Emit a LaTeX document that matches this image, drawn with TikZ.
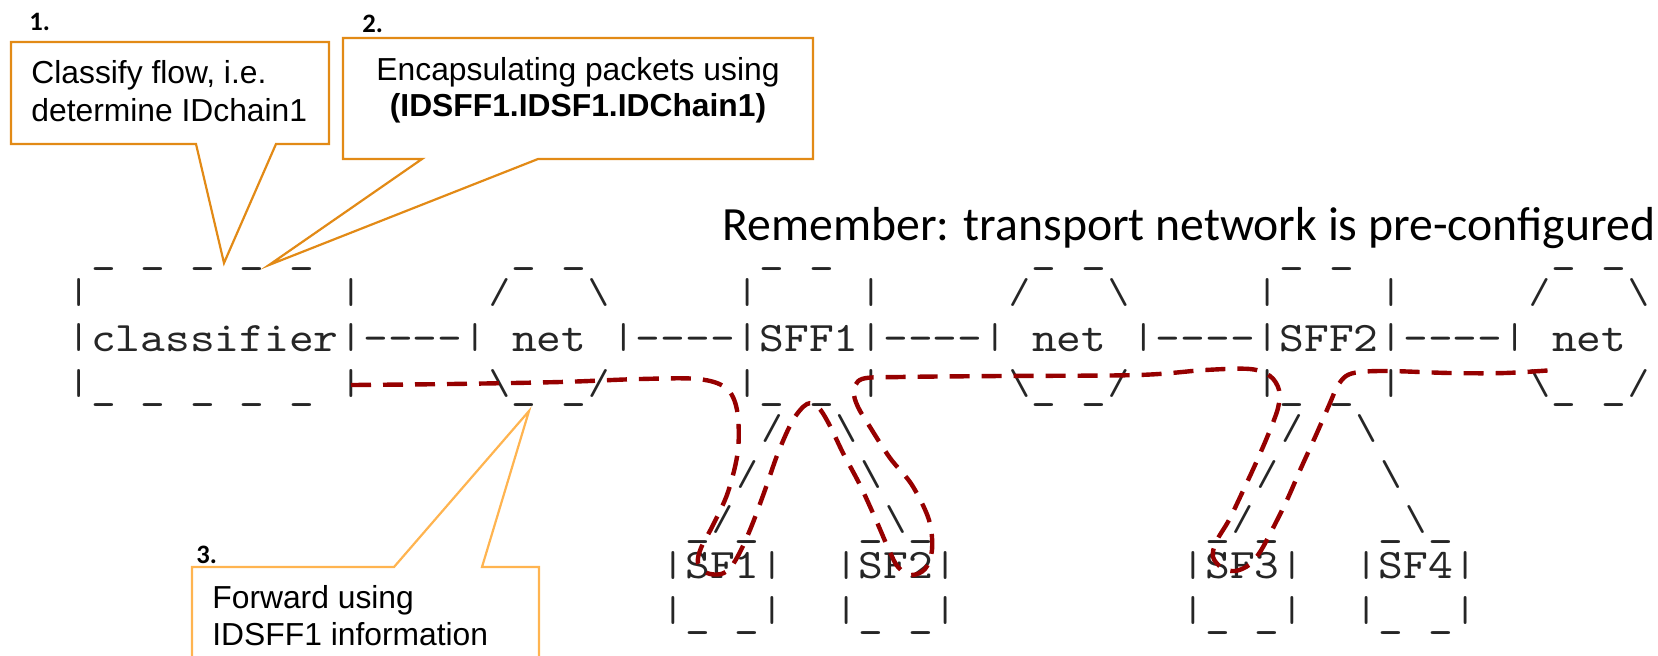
\documentclass[tikz,border=0pt]{standalone}
\usepackage{fontspec}
\setmainfont{Liberation Sans}
\newfontfamily\calibrifont{Carlito}
\setmonofont{lmmono10-regular.otf}[FakeStretch=1.123]
\usepackage{tikz}

\definecolor{boxorange}{RGB}{226,138,22}
\definecolor{lightorange}{RGB}{255,180,80}
\definecolor{pathred}{RGB}{150,0,0}

% one character cell of the ascii drawing
\newlength\cellw \setlength\cellw{12.38pt}
\newcommand\blank[1]{\kern#1\cellw}
\newcommand\asciiglyph[1]{\makebox[\cellw]{\raisebox{1.2pt}{\fontsize{18pt}{18pt}\selectfont#1}}}
\newcommand\abar{\asciiglyph{|}}
\newcommand\aslash{\asciiglyph{/}}
\newcommand\abslash{\asciiglyph{\textbackslash}}
\newcommand\aus{\makebox[\cellw]{\raisebox{-1.5pt}{\_}}}
\newcommand\alink{-\kern0pt-\kern0pt-\kern0pt-}

\tikzset{
  asc/.style={font=\ttfamily\fontsize{21pt}{21pt}\selectfont, text=black!85, inner sep=0pt, anchor=base west},
  note/.style={font=\fontsize{15.9pt}{19pt}\selectfont, inner sep=0pt, anchor=base west},
  num/.style={font=\calibrifont\bfseries\fontsize{13.3pt}{13.3pt}\selectfont, inner sep=0pt, anchor=base west},
  calloutline/.style={draw=boxorange, line width=1.1pt},
  flow/.style={draw=pathred, line width=2.2pt, dash pattern=on 10pt off 6pt},
}

\begin{document}
\begin{tikzpicture}[x=0.5pt,y=-0.5pt]
\useasboundingbox (0,0) rectangle (1658,655);
\clip (0,0) rectangle (1658,655);

%callout 1
\node[num] (num1) at (29,30) {1.};
\draw[calloutline] (11,42) -- (329,42) -- (329,144) -- (276,144) -- (224,263) -- (196,144) -- (11,144) -- cycle;
\node[note] (cls1) at (31,83) {Classify flow, i.e.};
\node[note] (cls2) at (31,121) {determine IDchain1};

%callout 2
\node[num] (num2) at (362,32) {2.};
\draw[calloutline] (343,38) -- (813,38) -- (813,159) -- (538,159) -- (269,265) -- (422,159) -- (343,159) -- cycle;
\node[note, anchor=base] (enc1) at (578,80) {Encapsulating packets using};
\node[note, anchor=base] (enc2) at (578,116.5) {\bfseries (IDSFF1.IDSF1.IDChain1)};

%callout 3
\node[num] (num3) at (196,563) {3.};
\draw[calloutline, draw=lightorange] (192,567) -- (394,567) -- (529,411) -- (482,567) -- (539,567) -- (539,700) -- (192,700) -- cycle;
\node[note] (fwd1) at (212,608) {Forward using};
\node[note] (fwd2) at (212,645) {IDSFF1 information};

%note
\node[font=\calibrifont\fontsize{23.85pt}{23.85pt}\selectfont, inner sep=0pt, anchor=base west] (remember) at (722,240) {Remember: transport network is pre-configured};

%ascii chain, one node per text row
\begin{scope}[shift={(65.9,260)}, x=12.38pt, y=-22.75pt]
\node[asc] (row0) at (1,0) {\aus\blank{1}\aus\blank{1}\aus\blank{1}\aus\blank{1}\aus\blank{8}\aus\blank{1}\aus\blank{7}\aus\blank{1}\aus\blank{8}\aus\blank{1}\aus\blank{7}\aus\blank{1}\aus\blank{8}\aus\blank{1}\aus};
\node[asc] (row1) at (0,1) {\abar\blank{10}\abar\blank{5}\aslash\blank{3}\abslash\blank{5}\abar\blank{4}\abar\blank{5}\aslash\blank{3}\abslash\blank{5}\abar\blank{4}\abar\blank{5}\aslash\blank{3}\abslash};
\node[asc] (row2) at (0,2) {\abar classifier\abar\alink\abar\blank{1}net\blank{1}\abar\alink\abar SFF1\abar\alink\abar\blank{1}net\blank{1}\abar\alink\abar SFF2\abar\alink\abar\blank{1}net};
\node[asc] (row3) at (0,3) {\abar\aus\blank{1}\aus\blank{1}\aus\blank{1}\aus\blank{1}\aus\blank{1}\abar\blank{5}\abslash\aus\blank{1}\aus\aslash\blank{5}\abar\aus\blank{1}\aus\blank{1}\abar\blank{5}\abslash\aus\blank{1}\aus\aslash\blank{5}\abar\aus\blank{1}\aus\blank{1}\abar\blank{5}\abslash\aus\blank{1}\aus\aslash};
\node[asc] (row4) at (28,4) {\aslash\blank{2}\abslash\blank{17}\aslash\blank{2}\abslash};
\node[asc] (row5) at (27,5) {\aslash\blank{4}\abslash\blank{15}\aslash\blank{4}\abslash};
\node[asc] (row6) at (25,6) {\aus\aslash\aus\blank{4}\aus\abslash\aus\blank{11}\aus\aslash\aus\blank{4}\aus\abslash\aus};
\node[asc] (row7) at (24,7) {\abar SF1\abar\blank{2}\abar SF2\abar\blank{9}\abar SF3\abar\blank{2}\abar SF4\abar};
\node[asc] (row8) at (24,8) {\abar\aus\blank{1}\aus\abar\blank{2}\abar\aus\blank{1}\aus\abar\blank{9}\abar\aus\blank{1}\aus\abar\blank{2}\abar\aus\blank{1}\aus\abar};
\end{scope}

%forwarding path
\draw[flow] plot[smooth, tension=0.55] coordinates {(351,385) (450,384) (560,382) (640,379) (698,379) (726,388) (737,410) (738,450) (728,492) (713,525) (701,548) (698,563) (707,573) (721,574) (731,567) (741,550) (752,525) (765,490) (778,453) (793,420) (807,404) (818,407) (829,424) (843,453) (860,485) (876,520) (889,550) (898,567) (911,575) (925,569) (932,550) (929,520) (912,485) (890,458) (870,427) (858,407) (854,392) (862,379) (900,377) (1000,376) (1138,375) (1205,370) (1250,369) (1270,376) (1279,390) (1278,408) (1268,435) (1255,465) (1242,493) (1229,520) (1216,542) (1213,557) (1222,568) (1235,571) (1249,565) (1260,552) (1272,530) (1287,500) (1301,468) (1316,435) (1330,403) (1337,387) (1346,376) (1360,372) (1390,371) (1450,373) (1505,373) (1554,370)};
\end{tikzpicture}
\end{document}
